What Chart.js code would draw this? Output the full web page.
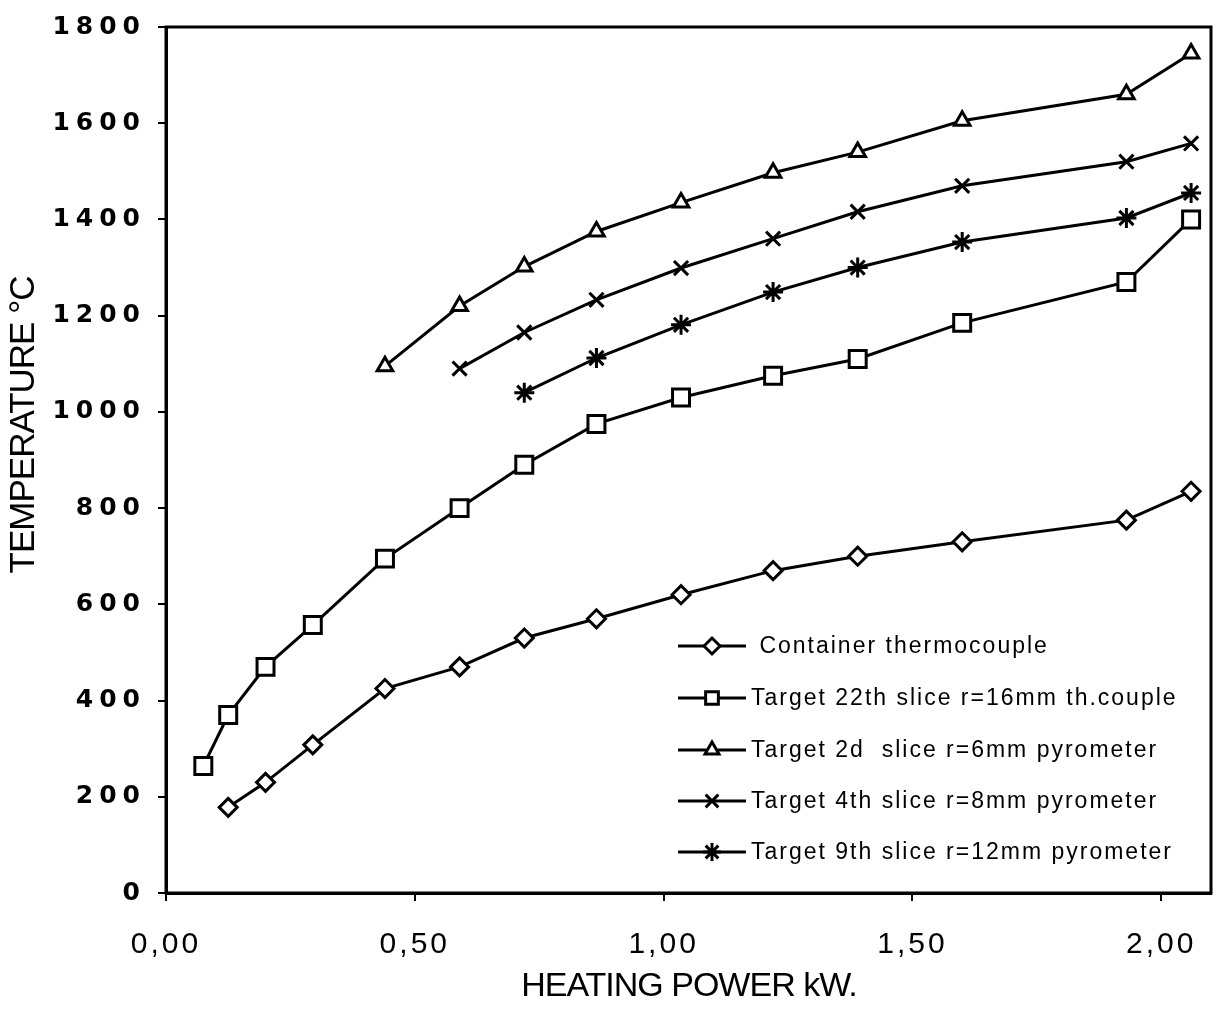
<!DOCTYPE html>
<html>
<head>
<meta charset="utf-8">
<title>Temperature vs heating power</title>
<script src="https://cdn.jsdelivr.net/npm/chart.js@4.4.1/dist/chart.umd.min.js"></script>
<style>
  html, body { margin: 0; padding: 0; background: #fff; }
  #wrap { width: 1226px; height: 1014px; }
</style>
</head>
<body>
<div id="wrap"><canvas id="chart" width="1226" height="1014"></canvas></div>
<script>
// heating power (kW) of each reading, per curve
const powerContainer = [0.125, 0.2, 0.295, 0.44, 0.59, 0.72, 0.865, 1.035, 1.22, 1.39, 1.6, 1.93, 2.06];
const powerSlice22   = [0.075, 0.125, 0.2, 0.295, 0.44, 0.59, 0.72, 0.865, 1.035, 1.22, 1.39, 1.6, 1.93, 2.06];
const powerSlice2    = [0.44, 0.59, 0.72, 0.865, 1.035, 1.22, 1.39, 1.6, 1.93, 2.06];
const powerSlice4    = [0.59, 0.72, 0.865, 1.035, 1.22, 1.39, 1.6, 1.93, 2.06];
const powerSlice9    = [0.72, 0.865, 1.035, 1.22, 1.39, 1.6, 1.93, 2.06];

// temperatures (°C)
const tempContainer = [178, 230, 308, 425, 470, 530, 570, 620, 670, 700, 730, 775, 835];
const tempSlice22   = [264, 370, 470, 557, 695, 800, 890, 975, 1030, 1075, 1110, 1185, 1270, 1400];
const tempSlice2    = [1095, 1220, 1302, 1375, 1435, 1497, 1540, 1605, 1660, 1745];
const tempSlice4    = [1090, 1165, 1233, 1299, 1360, 1416, 1470, 1520, 1558];
const tempSlice9    = [1040, 1112, 1181, 1249, 1300, 1353, 1403, 1455];

const seriesLabels = [
    'Container thermocouple',
    'Target 22th slice r=16mm th.couple',
    'Target 2d  slice r=6mm pyrometer',
    'Target 4th slice r=8mm pyrometer',
    'Target 9th slice r=12mm pyrometer'
];
const xTitle = 'HEATING POWER kW.';
const yTitle = 'TEMPERATURE °C';

function pts(xs, ys) {
    return xs.map((x, i) => ({ x: x, y: ys[i] }));
}

const base = {
    showLine: true,
    borderColor: '#000',
    borderWidth: 3,
    pointBackgroundColor: '#fff',
    pointBorderColor: '#000',
    pointBorderWidth: 3,
    tension: 0
};

const data = {
    datasets: [
        { ...base, label: seriesLabels[0], data: pts(powerContainer, tempContainer), pointStyle: 'rectRot', pointRadius: 9 },
        { ...base, label: seriesLabels[1], data: pts(powerSlice22, tempSlice22), pointStyle: 'rect', pointRadius: 12 },
        { ...base, label: seriesLabels[2], data: pts(powerSlice2, tempSlice2), pointStyle: 'triangle', pointRadius: 9 },
        { ...base, label: seriesLabels[3], data: pts(powerSlice4, tempSlice4), pointStyle: 'crossRot', pointRadius: 10 },
        { ...base, label: seriesLabels[4], data: pts(powerSlice9, tempSlice9), pointStyle: 'star', pointRadius: 10 }
    ]
};

// legend marker sizes (smaller than the plot markers)
const legendRadius = [8, 9, 8, 9, 9];

function drawMarker(ctx, style, r, x, y) {
    if (Chart.helpers && Chart.helpers.drawPoint) {
        Chart.helpers.drawPoint(ctx, { pointStyle: style, radius: r, rotation: 0, borderWidth: 3 }, x, y);
        return;
    }
    ctx.beginPath();
    ctx.arc(x, y, r, 0, Math.PI * 2);
    ctx.fill();
    ctx.stroke();
}

// tick label letter spacing differs per axis: wrap each scale's label drawing
const tickSpacing = { x: '3px', y: '6px' };

const paper = {
    id: 'paper',
    beforeDraw(chart) {
        const ctx = chart.ctx;
        ['x', 'y'].forEach(id => {
            const s = chart.scales[id];
            if (s._spaced) return;
            const orig = s.drawLabels.bind(s);
            s.drawLabels = function(area) {
                ctx.save();
                ctx.letterSpacing = tickSpacing[id];
                orig(area);
                ctx.restore();
            };
            s._spaced = true;
        });
    },
    afterDraw(chart) {
        const ctx = chart.ctx;
        const a = chart.chartArea;
        ctx.save();
        ctx.strokeStyle = '#000';
        ctx.lineWidth = 3;
        ctx.strokeRect(a.left, a.top, a.right - a.left, a.bottom - a.top);

        // axis titles
        ctx.fillStyle = '#000';
        ctx.textAlign = 'center';
        ctx.textBaseline = 'middle';
        ctx.letterSpacing = '-1px';
        ctx.font = '34px "Liberation Sans", Arial, sans-serif';
        ctx.fillText(xTitle, 689, 987);
        ctx.save();
        ctx.translate(24, 425);
        ctx.rotate(-Math.PI / 2);
        ctx.font = '35px "Liberation Sans", Arial, sans-serif';
        ctx.fillText(yTitle, 0, 0);
        ctx.restore();

        // legend inside the plot
        const rowY = [646, 698, 750, 801, 852];
        chart.data.datasets.forEach((ds, i) => {
            const y = rowY[i];
            ctx.strokeStyle = '#000';
            ctx.lineWidth = 3;
            ctx.beginPath();
            ctx.moveTo(678, y);
            ctx.lineTo(746, y);
            ctx.stroke();
            ctx.fillStyle = '#fff';
            drawMarker(ctx, ds.pointStyle, legendRadius[i], 712, y);
            ctx.fillStyle = '#000';
            ctx.textAlign = 'left';
            ctx.letterSpacing = '2px';
            ctx.font = '23px "Liberation Sans", Arial, sans-serif';
            ctx.fillText(i === 0 ? ' ' + ds.label : ds.label, 751, y + 1);
        });
        ctx.restore();
    }
};

new Chart(document.getElementById('chart'), {
    type: 'scatter',
    data: data,
    options: {
        responsive: false,
        animation: false,
        layout: { padding: { top: 24, right: 9, left: 0, bottom: 0 } },
        plugins: { legend: { display: false }, tooltip: { enabled: false } },
        scales: {
            x: {
                type: 'linear',
                min: 0,
                max: 2.1,
                ticks: {
                    stepSize: 0.5,
                    includeBounds: false,
                    color: '#000',
                    font: { family: '"Liberation Sans", Arial, sans-serif', size: 30 },
                    padding: 26,
                    maxRotation: 0,
                    callback: function(v) { return v.toFixed(2).replace('.', ','); }
                },
                grid: { drawOnChartArea: false, color: '#000', lineWidth: 2, tickLength: 8 },
                border: { color: '#000', width: 3 },
                afterFit: function(s) { s.height = 121; }
            },
            y: {
                min: 0,
                max: 1800,
                ticks: {
                    stepSize: 200,
                    color: '#000',
                    font: { family: '"DejaVu Sans", Verdana, sans-serif', size: 25, weight: 'bold' },
                    padding: 12,
                    callback: function(v) { return String(v); }
                },
                grid: { drawOnChartArea: false, color: '#000', lineWidth: 2, tickLength: 8 },
                border: { color: '#000', width: 3 },
                afterFit: function(s) { s.width = 166; }
            }
        }
    },
    plugins: [paper]
});
</script>
</body>
</html>
